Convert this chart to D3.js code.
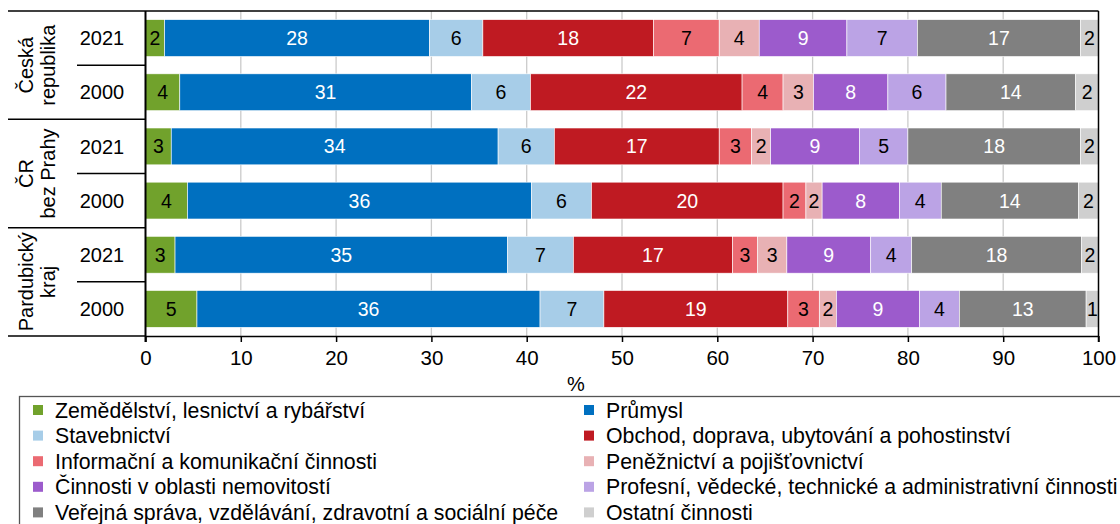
<!DOCTYPE html>
<html>
<head>
<meta charset="utf-8">
<script src="https://cdn.jsdelivr.net/npm/d3@7"></script>
<style>
  body { margin: 0; background: #fff; }
  svg { font-family: "Liberation Sans", Arial, sans-serif; }
</style>
</head>
<body>
<svg width="1120" height="524"></svg>
<script>
var svg = d3.select('svg');

// categories (rows from top to bottom)
var regions = [["Česká", "republika"], ["ČR", "bez Prahy"], ["Pardubický", "kraj"]];
var years = ["2021", "2000"];
var rows = ["CR-2021", "CR-2000", "BP-2021", "BP-2000", "PK-2021", "PK-2000"];

var sectors = [
    "Zemědělství, lesnictví a rybářství",
    "Průmysl",
    "Stavebnictví",
    "Obchod, doprava, ubytování a pohostinství",
    "Informační a komunikační činnosti",
    "Peněžnictví a pojišťovnictví",
    "Činnosti v oblasti nemovitostí",
    "Profesní, vědecké, technické a administrativní činnosti",
    "Veřejná správa, vzdělávání, zdravotní a sociální péče",
    "Ostatní činnosti"
];
var colors = ['#71a22c', '#0070c0', '#a7cde8', '#bf1a22', '#eb6a72', '#e8b1b4', '#9c5bcc', '#bba3e5', '#808080', '#cfcfcf'];
var whiteText = [false, true, false, true, false, false, true, false, true, false];

// series values (%) in row order
var zemedelstvi  = [2.0, 3.6, 2.7, 4.4, 3.1, 5.4];
var prumysl      = [27.8, 30.6, 34.3, 36.1, 34.9, 36.0];
var stavebnictvi = [5.6, 6.2, 5.9, 6.3, 6.9, 6.7];
var obchod       = [17.9, 22.2, 17.3, 20.1, 16.7, 19.3];
var informacni   = [6.9, 4.3, 3.4, 2.4, 2.6, 3.3];
var penezni      = [4.2, 3.2, 2.0, 1.7, 3.1, 1.8];
var nemovitosti  = [9.2, 7.8, 9.3, 8.1, 8.8, 8.7];
var profesni     = [7.4, 6.1, 5.1, 4.4, 4.3, 4.2];
var verejna      = [17.1, 13.6, 18.1, 14.4, 17.8, 13.3];
var ostatni      = [1.9, 2.4, 1.9, 2.1, 1.8, 1.3];

var xTicks = [0, 10, 20, 30, 40, 50, 60, 70, 80, 90, 100];

var series = [zemedelstvi, prumysl, stavebnictvi, obchod, informacni, penezni, nemovitosti, profesni, verejna, ostatni];

var table = rows.map(function(r, i) {
    var o = { row: r };
    series.forEach(function(s, j) { o[j] = s[i]; });
    return o;
});

var xScale = d3.scaleLinear().domain([0, 100]).range([145.5, 1098.5]);
var yScale = d3.scaleBand().domain(rows).range([11, 336]).paddingInner(0.32).paddingOuter(0.16);
var step = yScale.step();

// gridlines
svg.append('g')
    .selectAll('line')
    .data(xTicks.slice(1, -1))
    .enter().append('line')
    .attr('x1', function(d) { return xScale(d); })
    .attr('x2', function(d) { return xScale(d); })
    .attr('y1', 11).attr('y2', 336)
    .style('stroke', '#cbcbcb')
    .style('stroke-width', 1.3);

// bars
var stack = d3.stack().keys(d3.range(sectors.length));
var layers = stack(table);

var layerG = svg.selectAll('.layer')
    .data(layers)
    .enter().append('g')
    .attr('class', 'layer');

layerG.selectAll('rect')
    .data(function(d) { return d; })
    .enter().append('rect')
    .attr('x', function(d) { return xScale(d[0]); })
    .attr('width', function(d) { return xScale(d[1]) - xScale(d[0]); })
    .attr('y', function(d) { return yScale(d.data.row); })
    .attr('height', yScale.bandwidth())
    .style('fill', function(d, i, nodes) { return colors[d3.select(nodes[i].parentNode).datum().key]; })
    .style('stroke', '#fff')
    .style('stroke-width', 0.6);

layerG.selectAll('text')
    .data(function(d) { return d.map(function(p) { p.key = d.key; return p; }); })
    .enter().append('text')
    .attr('x', function(d) { return (xScale(d[0]) + xScale(d[1])) / 2; })
    .attr('y', function(d) { return yScale(d.data.row) + yScale.bandwidth() / 2; })
    .attr('dy', '0.36em')
    .attr('text-anchor', 'middle')
    .style('font-size', '19.5px')
    .style('fill', function(d) { return whiteText[d.key] ? '#fff' : '#000'; })
    .text(function(d) { return Math.round(d[1] - d[0]); });

// x axis
var xAxisG = svg.append('g')
    .attr('transform', 'translate(0,336)')
    .call(d3.axisBottom(xScale).tickValues(xTicks).tickSize(6).tickSizeOuter(0).tickPadding(8));
xAxisG.select('.domain').style('stroke', '#000').style('stroke-width', 1.5);
xAxisG.selectAll('.tick line').style('stroke', '#000').style('stroke-width', 1.5);
xAxisG.selectAll('.tick text')
    .style('font-family', '"Liberation Sans", Arial, sans-serif')
    .style('font-size', '20.5px')
    .style('fill', '#000');

svg.append('text')
    .attr('x', 576).attr('y', 391)
    .attr('text-anchor', 'middle')
    .style('font-size', '20px')
    .text('%');

// frame: top, right, left axis
svg.append('line').attr('x1', 8).attr('x2', xScale(100)).attr('y1', 11).attr('y2', 11)
    .style('stroke', '#000').style('stroke-width', 1.5);
svg.append('line').attr('x1', xScale(100)).attr('x2', xScale(100)).attr('y1', 11).attr('y2', 342)
    .style('stroke', '#000').style('stroke-width', 1.5);
svg.append('line').attr('x1', xScale(0)).attr('x2', xScale(0)).attr('y1', 11).attr('y2', 342)
    .style('stroke', '#000').style('stroke-width', 2);

// category axis: year labels, separators, region labels
svg.selectAll('.year')
    .data(rows)
    .enter().append('text')
    .attr('class', 'year')
    .attr('x', 102)
    .attr('y', function(d) { return yScale(d) + yScale.bandwidth() / 2; })
    .attr('dy', '0.36em')
    .attr('text-anchor', 'middle')
    .style('font-size', '20px')
    .text(function(d, i) { return years[i % 2]; });

// short separators between years
svg.selectAll('.sepYear')
    .data(rows.filter(function(d, i) { return i % 2 === 1; }))
    .enter().append('line')
    .attr('x1', 77).attr('x2', xScale(0))
    .attr('y1', function(d) { return yScale(d) - step * 0.16; })
    .attr('y2', function(d) { return yScale(d) - step * 0.16; })
    .style('stroke', '#000').style('stroke-width', 1.5);

// long separators between regions
svg.selectAll('.sepRegion')
    .data(rows.filter(function(d, i) { return i % 2 === 1; }))
    .enter().append('line')
    .attr('x1', 8).attr('x2', xScale(0))
    .attr('y1', function(d) { return yScale(d) + yScale.bandwidth() + step * 0.16; })
    .attr('y2', function(d) { return yScale(d) + yScale.bandwidth() + step * 0.16; })
    .style('stroke', '#000').style('stroke-width', 1.5);

var regionG = svg.selectAll('.region')
    .data(regions)
    .enter().append('text')
    .attr('class', 'region')
    .attr('transform', function(d, i) {
        var cy = yScale(rows[i * 2 + 1]) - step * 0.16;
        return 'translate(37,' + cy + ') rotate(-90)';
    })
    .attr('text-anchor', 'middle')
    .style('font-size', '20px');

regionG.selectAll('tspan')
    .data(function(d) { return d; })
    .enter().append('tspan')
    .attr('x', 0)
    .attr('y', function(d, i) { return i === 0 ? -4 : 18; })
    .text(function(d) { return d; });

// legend
svg.append('rect')
    .attr('x', 19.5).attr('y', 396.5)
    .attr('width', 1200).attr('height', 200)
    .style('fill', 'none')
    .style('stroke', '#555')
    .style('stroke-width', 1.3);

var legendItem = svg.selectAll('.legend')
    .data(sectors)
    .enter().append('g')
    .attr('class', 'legend')
    .attr('transform', function(d, i) {
        var col = i % 2, r = Math.floor(i / 2);
        return 'translate(' + (col === 0 ? 33 : 584) + ',' + (410 + r * 25.6) + ')';
    });

legendItem.append('rect')
    .attr('x', 0).attr('y', -5)
    .attr('width', 10).attr('height', 10)
    .style('fill', function(d, i) { return colors[i]; });

legendItem.append('text')
    .attr('x', 22)
    .attr('dy', '0.36em')
    .style('font-size', '21.3px')
    .text(function(d) { return d; });
</script>
</body>
</html>
